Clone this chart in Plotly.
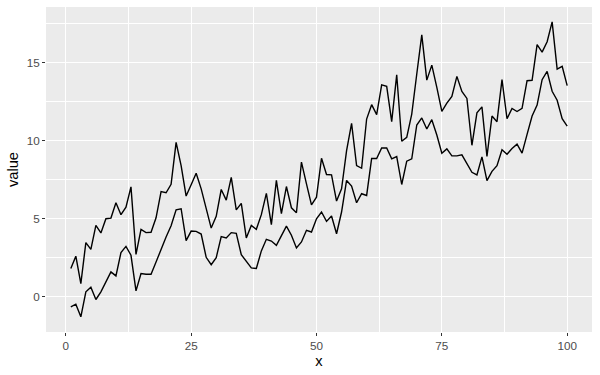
import plotly.graph_objects as go

x = list(range(1, 101))

upper = [1.81, 2.60, 0.85, 3.47, 3.04, 4.57, 4.09, 5.00, 5.04, 6.02,
         5.26, 5.74, 7.04, 2.72, 4.32, 4.11, 4.13, 5.06, 6.74, 6.66,
         7.20, 9.89, 8.40, 6.45, 7.17, 7.91, 6.91, 5.57, 4.40, 5.15,
         6.87, 6.19, 7.64, 5.57, 5.98, 3.77, 4.57, 4.32, 5.26, 6.62,
         4.62, 7.45, 5.32, 7.06, 5.70, 5.38, 8.62, 7.23, 5.89, 6.38,
         8.87, 7.83, 7.81, 6.13, 6.91, 9.36, 11.10, 8.40, 8.23, 11.38,
         12.30, 11.66, 13.57, 13.47, 11.21, 14.21, 9.96, 10.21, 11.70, 14.26,
         16.77, 13.87, 14.83, 13.40, 11.87, 12.40, 12.83, 14.11, 13.15, 12.70,
         9.70, 11.78, 12.16, 8.98, 11.57, 11.21, 13.90, 11.40, 12.06, 11.86,
         12.06, 13.83, 13.86, 16.14, 15.66, 16.33, 17.60, 14.58, 14.75, 13.52]

lower = [-0.64, -0.47, -1.28, 0.32, 0.62, -0.17, 0.32, 1.00, 1.60, 1.34,
         2.83, 3.23, 2.66, 0.38, 1.49, 1.45, 1.45, 2.23, 3.09, 3.83,
         4.55, 5.57, 5.64, 3.60, 4.21, 4.19, 4.02, 2.53, 2.06, 2.51,
         3.85, 3.77, 4.11, 4.06, 2.70, 2.28, 1.85, 1.81, 2.94, 3.68,
         3.57, 3.30, 3.94, 4.53, 3.94, 3.13, 3.51, 4.26, 4.15, 5.00,
         5.43, 4.83, 5.17, 4.04, 5.43, 7.45, 7.09, 6.02, 6.60, 6.49,
         8.86, 8.85, 9.53, 9.53, 8.83, 8.98, 7.19, 8.68, 8.83, 11.00,
         11.45, 10.74, 11.34, 10.36, 9.19, 9.47, 9.02, 9.02, 9.09, 8.55,
         7.97, 7.80, 8.96, 7.44, 8.03, 8.39, 9.41, 9.13, 9.49, 9.77,
         9.20, 10.40, 11.57, 12.27, 13.90, 14.43, 13.16, 12.58, 11.40, 10.93]

x_ticks = [0, 25, 50, 75, 100]
y_ticks = [0, 5, 10, 15]

fig = go.Figure()
for series in (upper, lower):
    fig.add_trace(go.Scatter(x=x, y=series, mode="lines",
                             line=dict(color="black", width=1.4),
                             showlegend=False, hoverinfo="skip"))

font_family = "Liberation Sans, Arial, sans-serif"
axis_common = dict(
    showgrid=True, gridcolor="white", gridwidth=1.1,
    zeroline=False, showline=False,
    ticks="outside", ticklen=3, tickwidth=1, tickcolor="#333333",
    tickfont=dict(family=font_family, size=11.7, color="#4D4D4D"),
    title_font=dict(family=font_family, size=14.7, color="black"),
)

fig.update_layout(
    width=600, height=375,
    margin=dict(l=46, r=8, t=7, b=43),
    paper_bgcolor="white", plot_bgcolor="#EBEBEB",
    font=dict(family=font_family),
    xaxis=dict(range=[-3.95, 104.95], tickvals=x_ticks,
               ticktext=[str(v) for v in x_ticks],
               title=dict(text="x", standoff=4),
               minor=dict(tickvals=[12.5, 37.5, 62.5, 87.5], showgrid=True,
                          gridcolor="white", gridwidth=0.55, ticks=""),
               **axis_common),
    yaxis=dict(range=[-2.25, 18.55], tickvals=y_ticks,
               ticktext=[str(v) for v in y_ticks],
               title=dict(text="value", standoff=4),
               minor=dict(tickvals=[-2.5, 2.5, 7.5, 12.5, 17.5], showgrid=True,
                          gridcolor="white", gridwidth=0.55, ticks=""),
               **axis_common),
)

fig.write_html("out.html")
